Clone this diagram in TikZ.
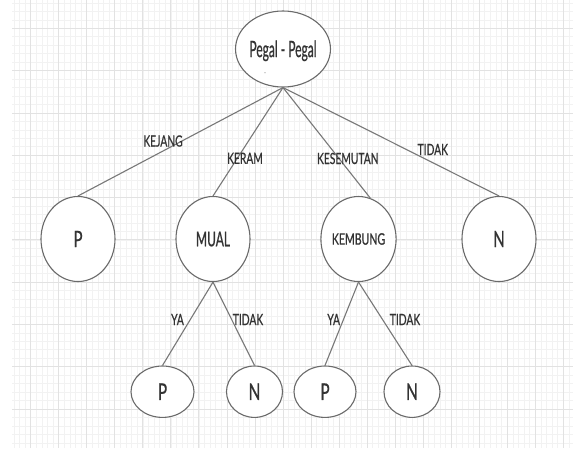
\documentclass[tikz,border=0pt]{standalone}
\usepackage{fontspec}
\setmainfont{Lato}[FakeStretch=0.667, FakeBold=0.7]
\usetikzlibrary{shapes.geometric}
\definecolor{gmin}{HTML}{F2F2F2}
\definecolor{gmaj}{HTML}{E2E2E2}
\definecolor{stroke}{HTML}{6A6A6A}
\definecolor{edgec}{HTML}{787878}
\definecolor{txt}{HTML}{333333}
\newcommand{\narrowtxt}[2]{\scalebox{#1}[1]{#2}}
\tikzset{
  oval/.style={ellipse, draw=stroke, line width=1.1pt, fill=white, inner sep=0pt, text=txt},
  rootnode/.style={oval, minimum width=92pt, minimum height=76pt, text height=16.1pt, text depth=0pt, font=\fontsize{22.5}{26}\selectfont},
  midnode/.style={oval, minimum width=74pt, minimum height=85pt, font=\fontsize{22.5}{26}\selectfont},
  leafnode/.style={oval, minimum height=51.4pt, font=\fontsize{23}{27}\selectfont},
  edgelab/.style={text=txt, inner sep=0pt, font=\fontsize{15.4}{18}\selectfont},
  conn/.style={draw=edgec, line width=1.1pt}
}
\begin{document}
\begin{tikzpicture}[x=1pt,y=-1pt]
\useasboundingbox (0,0) rectangle (573,448);
\fill[white] (0,0) rectangle (573,448);
\begin{scope}
  \clip (12,0) rectangle (573,448);
  \foreach \k in {-4,...,97} {
    \draw[gmin, line width=0.6pt] ({30.7+5.606*\k},0) -- ({30.7+5.606*\k},448);
  }
  \foreach \k in {-4,...,50} {
    \draw[gmin, line width=0.6pt] (0,{28.3+8.46*\k}) -- (573,{28.3+8.46*\k});
  }
  \foreach \k in {-1,...,20} {
    \draw[gmaj, line width=0.8pt] ({30.7+28.03*\k},0) -- ({30.7+28.03*\k},448);
  }
  \foreach \k in {-1,...,10} {
    \draw[gmaj, line width=0.8pt] (0,{28.3+42.3*\k}) -- (573,{28.3+42.3*\k});
  }
\end{scope}

\node[rootnode] (root) at (283,49) {\narrowtxt{0.8}{Pegal - Pegal}};
\node[midnode] (p) at (78,239) {P};
\node[midnode, font=\fontsize{20.5}{24}\selectfont] (mual) at (213,239) {\narrowtxt{0.88}{MUAL}};
\node[midnode, font=\fontsize{15.8}{19}\selectfont] (kembung) at (358.5,239) {KEMBUNG};
\node[midnode] (n) at (499,239) {N};
\node[leafnode, minimum width=63pt] (p1) at (162.5,391.7) {P};
\node[leafnode, minimum width=56pt] (n1) at (254.5,391.7) {N};
\node[leafnode, minimum width=62pt] (p2) at (325,391.7) {P};
\node[leafnode, minimum width=56pt] (n2) at (412,391.7) {N};

\fill[stroke!70] (265,72.7) circle (0.6pt);

\draw[conn] (root.south) -- (p.north);
\draw[conn] (root.south) -- (mual.north);
\draw[conn] (root.south) -- (kembung.74);
\draw[conn] (root.south) -- (n.north);
\draw[conn] (mual.south) -- (p1.north);
\draw[conn] (mual.south) -- (n1.north);
\draw[conn] (kembung.south) -- (p2.north);
\draw[conn] (kembung.south) -- (n2.north);

\node[edgelab] (l1) at (163,141) {KEJANG};
\node[edgelab] (l2) at (245,158.3) {KERAM};
\node[edgelab] (l3) at (347.8,158.5) {KESEMUTAN};
\node[edgelab] (l4) at (432.8,149.5) {TIDAK};
\node[edgelab] (l5) at (177.5,319.5) {YA};
\node[edgelab] (l6) at (248,319.5) {TIDAK};
\node[edgelab] (l7) at (333.7,319.5) {YA};
\node[edgelab] (l8) at (405,319.5) {TIDAK};
\end{tikzpicture}
\end{document}
